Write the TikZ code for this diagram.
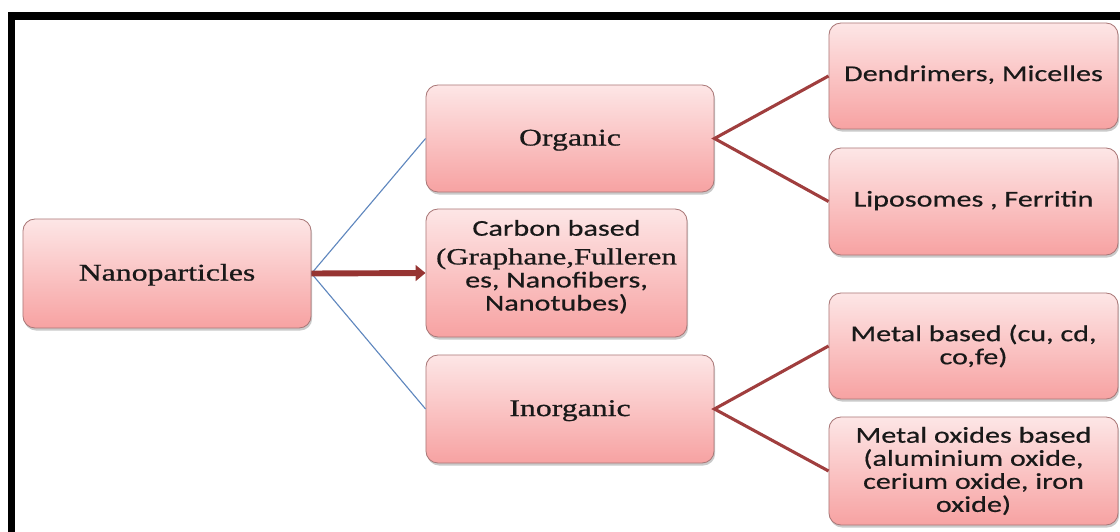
\documentclass[tikz,border=0pt]{standalone}
\usepackage{fontspec}
\setmainfont{Liberation Serif}[FakeStretch=1.33,FakeBold=0.8]
\newfontfamily\calfont{Carlito}[FakeStretch=1.33,FakeBold=0.5]
\usetikzlibrary{arrows.meta,shadows}
\definecolor{pinktop}{RGB}{253,230,230}
\definecolor{pinkbot}{RGB}{247,162,162}
\definecolor{boxborder}{RGB}{170,120,120}
\definecolor{linkred}{RGB}{160,62,62}
\definecolor{arrowred}{RGB}{150,52,50}
\definecolor{linkblue}{RGB}{95,135,190}
\begin{document}
\begin{tikzpicture}[x=0.025cm,y=-0.025cm,
  box/.style={rounded corners=0.3cm, draw=boxborder, line width=0.6pt,
    top color=pinktop, bottom color=pinkbot, inner sep=0pt, text=black!90,
    drop shadow={shadow xshift=0.8pt, shadow yshift=-1.8pt, opacity=0.35, fill=black!60}},
  serbox/.style={box, font=\rmfamily\fontsize{17}{20}\selectfont,
    text height=10.7pt, text depth=0.7pt},
  sanone/.style={box, font=\calfont\fontsize{16.1}{16.4}\selectfont,
    text height=10.4pt, text depth=3.2pt},
  sanbox/.style={box, align=center, font=\calfont\fontsize{16.1}{16.4}\selectfont},
  redlink/.style={draw=linkred, line width=2.2pt},
  bluelink/.style={draw=linkblue, line width=0.8pt},
  thickarrow/.style={draw=arrowred, line width=4.2pt, -{Triangle[length=7pt,width=11pt]}}]
\useasboundingbox (0,0) rectangle (1120,532);
% frame
\fill[black] (8,12) rectangle (1120,20);
\fill[black] (8,12) rectangle (14.5,532);
% nodes
\node[serbox, minimum width=7.2cm, minimum height=2.725cm] (nano) at (167,273.5) {Nanoparticles};
\node[serbox, minimum width=7.2cm, minimum height=2.675cm] (org) at (570,138.5) {Organic};
\node[serbox, minimum width=7.2cm, minimum height=2.7cm] (inorg) at (570,409) {Inorganic};
\node[sanbox, minimum width=6.525cm, minimum height=3.2cm] (carbon) at (556.5,273)
  {Carbon based\\[4pt]{\rmfamily\fontsize{16.5}{16.4}\selectfont (Graphane,Fulleren}\\es, Nanofibers,\\Nanotubes)\rule[-11pt]{0pt}{11pt}};
\node[sanone, minimum width=7.225cm, minimum height=2.65cm] (dend) at (973.5,76) {Dendrimers, Micelles};
\node[sanone, minimum width=7.225cm, minimum height=2.675cm] (lipo) at (973.5,201.5) {Liposomes , Ferritin};
\node[sanbox, minimum width=7.225cm, minimum height=2.65cm] (metal) at (973.5,346) {Metal based (cu, cd,\\co,fe)};
\node[sanbox, minimum width=7.225cm, minimum height=2.7cm] (oxide) at (973.5,471) {Metal oxides based\\(aluminium oxide,\\cerium oxide, iron\\oxide)};
% connectors
\draw[bluelink] (nano.east) -- (org.west);
\draw[bluelink] (nano.east) -- (inorg.west);
\draw[thickarrow] (nano.east) -- (carbon.west);
\draw[redlink] (dend.west) -- (org.east) -- (lipo.west);
\draw[redlink] (metal.west) -- (inorg.east) -- (oxide.west);
\end{tikzpicture}
\end{document}
